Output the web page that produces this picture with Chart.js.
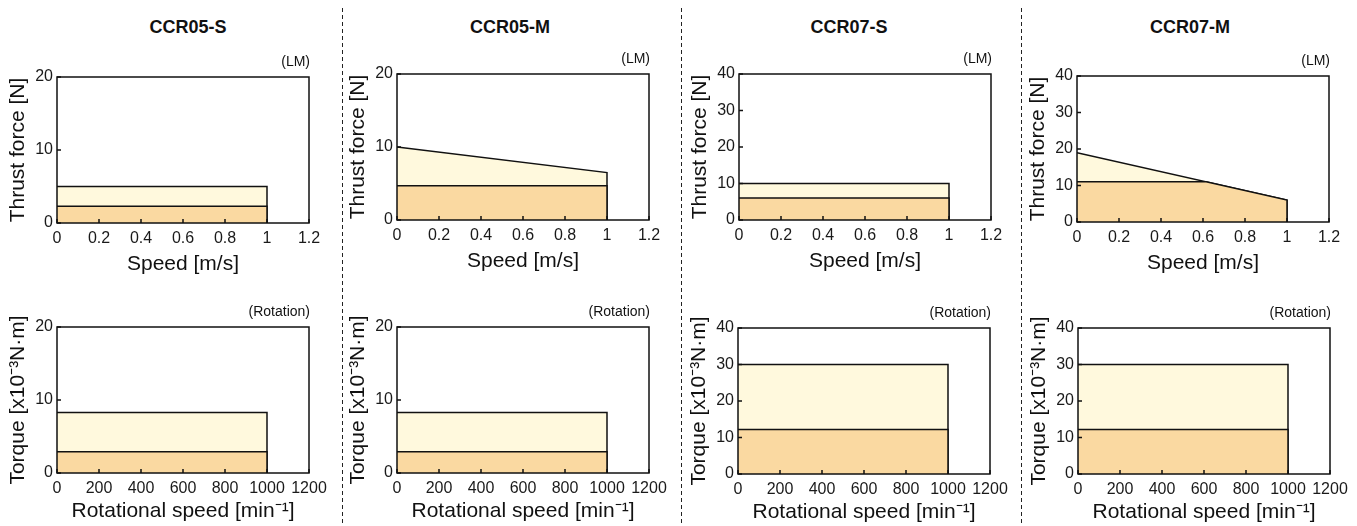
<!DOCTYPE html>
<html>
<head>
<meta charset="utf-8">
<script src="https://cdn.jsdelivr.net/npm/chart.js@4.4.0/dist/chart.umd.min.js"></script>
<style>
  body { margin: 0; width: 1357px; height: 526px; overflow: hidden; background: #fff; position: relative;
         font-family: "Liberation Sans", Arial, sans-serif; }
  .box { position: absolute; }
  .title { position: absolute; width: 200px; top: 16px; line-height: 22px; text-align: center;
           font-weight: bold; font-size: 18px; color: #111; }
  .sep { position: absolute; top: 8px; bottom: 0; width: 1px;
         background: repeating-linear-gradient(to bottom, #222 0 4px, transparent 4px 7px); }
</style>
</head>
<body>
<script>
// models and axis ticks
const models = ["CCR05-S", "CCR05-M", "CCR07-S", "CCR07-M"];
const speedTicks = [0, 0.2, 0.4, 0.6, 0.8, 1, 1.2];
const rotTicks = [0, 200, 400, 600, 800, 1000, 1200];
const range20 = [0, 10, 20];
const range40 = [0, 10, 20, 30, 40];

// LM: speed [m/s] vs thrust force [N]
const speed = [0, 1, 1];
const speed07M = [0, 0.615, 1, 1];
const maxThrust05S = [5, 5, 0];
const ratedThrust05S = [2.3, 2.3, 0];
const maxThrust05M = [10, 6.5, 0];
const ratedThrust05M = [4.7, 4.7, 0];
const maxThrust07S = [10, 10, 0];
const ratedThrust07S = [6, 6, 0];
const maxThrust07M = [19, 6, 0];
const ratedThrust07M = [11, 11, 6, 0];

// Rotation: rotational speed [min-1] vs torque [x10^-3 N.m]
const rpm = [0, 1000, 1000];
const maxTorque05 = [8.3, 8.3, 0];
const ratedTorque05 = [2.9, 2.9, 0];
const maxTorque07 = [30, 30, 0];
const ratedTorque07 = [12.2, 12.2, 0];

const FONT = '"Liberation Sans", Arial, sans-serif';
const YELLOW = "#fff9dd";
const ORANGE = "#fad9a1";
const AXIS_W = 57, PLOT_W = 252, PLOT_H = 146, PAD_TOP = 36, PAD_RIGHT = 25;

function pts(xs, ys) {
  return xs.map((x, i) => ({ x: x, y: ys[i] }));
}

// frame, inward ticks, corner label and y title
const framePlugin = {
  id: "frame",
  afterDraw(chart, args, opts) {
    const { ctx, chartArea: a, scales } = chart;
    ctx.save();
    ctx.strokeStyle = "#111";
    ctx.lineWidth = 1.5;
    ctx.strokeRect(a.left, a.top, a.right - a.left, a.bottom - a.top);
    ctx.beginPath();
    scales.x.ticks.forEach(t => {
      const px = scales.x.getPixelForValue(t.value);
      ctx.moveTo(px, a.bottom);
      ctx.lineTo(px, a.bottom - 4);
    });
    scales.y.ticks.forEach(t => {
      const py = scales.y.getPixelForValue(t.value);
      ctx.moveTo(a.left, py);
      ctx.lineTo(a.left + 4, py);
    });
    ctx.stroke();

    ctx.fillStyle = "#111";
    ctx.font = "14px " + FONT;
    ctx.textAlign = "right";
    ctx.textBaseline = "middle";
    ctx.fillText(opts.corner, a.right + 1, a.top - 15);

    ctx.font = "21px " + FONT;
    ctx.textAlign = "center";
    ctx.translate(scales.y.left + 18, (a.top + a.bottom) / 2);
    ctx.rotate(-Math.PI / 2);
    ctx.fillText(opts.yTitle, 0, 0);
    ctx.restore();
  }
};

function makeChart(c) {
  const div = document.createElement("div");
  div.className = "box";
  div.style.left = (c.plotLeft - AXIS_W) + "px";
  div.style.top = (c.plotTop - PAD_TOP) + "px";
  div.style.width = (AXIS_W + PLOT_W + PAD_RIGHT) + "px";
  div.style.height = (PAD_TOP + PLOT_H + c.xAxisH) + "px";
  const cv = document.createElement("canvas");
  div.appendChild(cv);
  document.body.appendChild(div);

  new Chart(cv, {
    type: "line",
    data: {
      // first dataset is drawn on top
      datasets: c.series.map(s => ({
        data: pts(s.x, s.y),
        backgroundColor: s.color,
        borderColor: "#111",
        borderWidth: 1.5,
        fill: "origin",
        pointRadius: 0,
        tension: 0
      }))
    },
    options: {
      responsive: true,
      maintainAspectRatio: false,
      animation: false,
      events: [],
      layout: { padding: { top: PAD_TOP, right: PAD_RIGHT, bottom: 0, left: 0 } },
      plugins: {
        legend: { display: false },
        tooltip: { enabled: false },
        frame: { corner: c.corner, yTitle: c.yTitle }
      },
      scales: {
        x: {
          type: "linear",
          min: c.xTicks[0],
          max: c.xTicks[c.xTicks.length - 1],
          grid: { display: false, drawTicks: false },
          border: { display: false },
          afterBuildTicks: s => { s.ticks = c.xTicks.map(v => ({ value: v })); },
          afterFit: s => { s.height = c.xAxisH; },
          ticks: { color: "#1a1a1a", font: { family: FONT, size: 16 }, padding: 6,
                   maxRotation: 0, autoSkip: false, callback: v => String(v) },
          title: { display: true, text: c.xTitle, color: "#111",
                   font: { family: FONT, size: 21 }, padding: { top: 0, bottom: 0 } }
        },
        y: {
          type: "linear",
          min: c.yTicks[0],
          max: c.yTicks[c.yTicks.length - 1],
          grid: { display: false, drawTicks: false },
          border: { display: false },
          afterBuildTicks: s => { s.ticks = c.yTicks.map(v => ({ value: v })); },
          afterFit: s => { s.width = AXIS_W; },
          ticks: { color: "#1a1a1a", font: { family: FONT, size: 16 }, padding: 4,
                   autoSkip: false, callback: v => String(v) }
        }
      }
    },
    plugins: [framePlugin]
  });
}

// titles and separators
const titleX = [188, 510, 849, 1190];
models.forEach((m, i) => {
  const t = document.createElement("div");
  t.className = "title";
  t.style.left = (titleX[i] - 100) + "px";
  t.textContent = m;
  document.body.appendChild(t);
});
[342, 681, 1021].forEach(x => {
  const s = document.createElement("div");
  s.className = "sep";
  s.style.left = x + "px";
  document.body.appendChild(s);
});

const lmSeries = [
  [{ x: speed, y: ratedThrust05S, color: ORANGE }, { x: speed, y: maxThrust05S, color: YELLOW }],
  [{ x: speed, y: ratedThrust05M, color: ORANGE }, { x: speed, y: maxThrust05M, color: YELLOW }],
  [{ x: speed, y: ratedThrust07S, color: ORANGE }, { x: speed, y: maxThrust07S, color: YELLOW }],
  [{ x: speed07M, y: ratedThrust07M, color: ORANGE }, { x: speed, y: maxThrust07M, color: YELLOW }]
];
const rotSeries = [
  [{ x: rpm, y: ratedTorque05, color: ORANGE }, { x: rpm, y: maxTorque05, color: YELLOW }],
  [{ x: rpm, y: ratedTorque05, color: ORANGE }, { x: rpm, y: maxTorque05, color: YELLOW }],
  [{ x: rpm, y: ratedTorque07, color: ORANGE }, { x: rpm, y: maxTorque07, color: YELLOW }],
  [{ x: rpm, y: ratedTorque07, color: ORANGE }, { x: rpm, y: maxTorque07, color: YELLOW }]
];
const yRanges = [range20, range20, range40, range40];
const topLeft = [57, 397, 739, 1077], topTop = [77, 74, 74, 76];
const botLeft = [57, 397, 738, 1078], botTop = [327, 327, 328, 328];

for (let i = 0; i < 4; i++) {
  makeChart({
    plotLeft: topLeft[i], plotTop: topTop[i], xAxisH: 54,
    xTicks: speedTicks, yTicks: yRanges[i],
    xTitle: "Speed [m/s]", yTitle: "Thrust force [N]", corner: "(LM)",
    series: lmSeries[i]
  });
  makeChart({
    plotLeft: botLeft[i], plotTop: botTop[i], xAxisH: 51,
    xTicks: rotTicks, yTicks: yRanges[i],
    xTitle: "Rotational speed [min\u207B\u00B9]", yTitle: "Torque [x10\u207B\u00B3N\u00B7m]", corner: "(Rotation)",
    series: rotSeries[i]
  });
}
</script>
</body>
</html>
